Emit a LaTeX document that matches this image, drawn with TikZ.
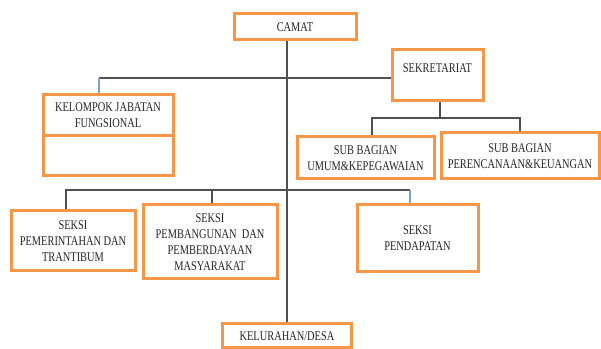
\documentclass[tikz,border=0pt]{standalone}
\usepackage{fontspec}
\usepackage{xcolor}
\usepackage{tikz}
\usetikzlibrary{positioning,calc,backgrounds}
\newfontfamily\orgfont[FakeStretch=0.78]{Liberation Serif}
\definecolor{boxorange}{RGB}{247,150,70}
\definecolor{linegray}{RGB}{80,80,80}
\definecolor{lineblue}{RGB}{125,160,210}
\tikzset{
  unit/.style={draw=boxorange, line width=2.25pt, fill=white, align=center,
    inner sep=1pt, text=black!85, font=\orgfont\fontsize{10}{12}\selectfont},
  lbl/.style={text=black!85, font=\orgfont\fontsize{10}{12}\selectfont},
  link/.style={draw=linegray, line width=0.9pt},
  blink/.style={draw=lineblue, line width=0.9pt}
}

\begin{document}
\begin{tikzpicture}[x=0.75pt, y=-0.75pt]
  \useasboundingbox (0,0) rectangle (601,349);

  % top level
  \node[unit, minimum width=91.5pt, minimum height=19.5pt] (camat) at (295,27) {CAMAT};
  \node[unit, minimum width=68.25pt, minimum height=38.25pt,
    label={[lbl, anchor=center, yshift=-15pt]north:SEKRETARIAT}] (sek) at (437.5,75.5) {};

  % functional group
  \node[unit, minimum width=97.5pt, minimum height=30.75pt] (kjf) at (108,115.5) {KELOMPOK JABATAN\\FUNGSIONAL};
  \node[unit, minimum width=97.5pt, minimum height=30pt] (kjfb) at (108,156) {};

  % sub divisions
  \node[unit, minimum width=102.75pt, minimum height=31.5pt] (umum) at (365.5,158) {SUB BAGIAN\\UMUM\&KEPEGAWAIAN};
  \node[unit, minimum width=118.5pt, minimum height=34.5pt] (renc) at (520,156) {SUB BAGIAN\\PERENCANAAN\&KEUANGAN};

  % sections
  \node[unit, minimum width=93pt, minimum height=45pt] (pem) at (73,241) {SEKSI\\PEMERINTAHAN DAN\\TRANTIBUM};
  \node[unit, minimum width=100.5pt, minimum height=55.5pt] (bang) at (210,242) {SEKSI\\PEMBANGUNAN~~DAN\\PEMBERDAYAAN\\MASYARAKAT};
  \node[unit, minimum width=90.75pt, minimum height=50.25pt] (pend) at (417.5,238.5) {SEKSI\\PENDAPATAN};

  % village level
  \node[unit, minimum width=96.75pt, minimum height=18pt] (kel) at (287,336) {KELURAHAN/DESA};

  % bus joints
  \coordinate (jf) at (99,78);
  \coordinate (sekbus) at (440,118);
  \coordinate (subL) at (372,118);
  \coordinate (subR) at (520,118);
  \coordinate (sxL) at (66,190);
  \coordinate (sxM) at (212,190);
  \coordinate (sxR) at (410,190);

  \begin{scope}[on background layer]
    \draw[link] (kel.north |- camat.south) -- (kel.north);
    \draw[link] (jf) -- (sek.west |- jf);
    \draw[blink] (jf) -- (jf |- kjf.north);
    \draw[link] (sek.south -| sekbus) -- (sekbus);
    \draw[link] (subL |- umum.north) -- (subL) -- (subR) -- (subR |- renc.north);
    \draw[link] (sxL |- pem.north) -- (sxL) -- (sxR);
    \draw[link] (sxM) -- (sxM |- bang.north);
    \draw[blink] (sxR) -- (sxR |- pend.north);
  \end{scope}
\end{tikzpicture}
\end{document}
